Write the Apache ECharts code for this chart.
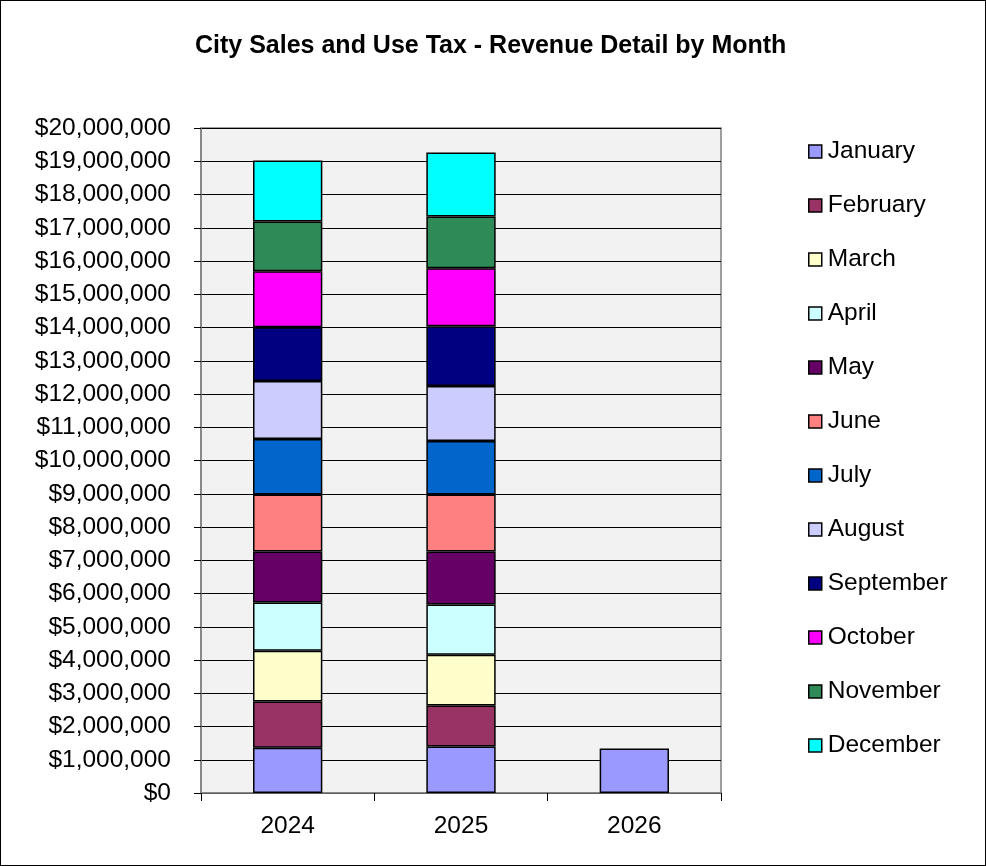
<!DOCTYPE html>
<html>
<head>
<meta charset="utf-8">
<script src="https://cdn.jsdelivr.net/npm/echarts@6/dist/echarts.min.js"></script>
<style>
html,body{margin:0;padding:0;background:#fff;}
#c{width:986px;height:866px;box-sizing:border-box;border:1px solid #000;}
</style>
</head>
<body>
<div id="c"></div>
<script>
const years = ['2024', '2025', '2026'];
const months = ['January','February','March','April','May','June','July','August','September','October','November','December'];
const colors = ['#9999FF','#993366','#FFFFCC','#CCFFFF','#660066','#FF8080','#0066CC','#CCCCFF','#000080','#FF00FF','#2E8B57','#00FFFF'];
// monthly revenue per year [2024, 2025, 2026]
const january   = [1360000, 1400000, 1340000];
const february  = [1390000, 1230000, null];
const march     = [1530000, 1530000, null];
const april     = [1450000, 1510000, null];
const may       = [1530000, 1590000, null];
const june      = [1720000, 1720000, null];
const july      = [1670000, 1610000, null];
const august    = [1740000, 1650000, null];
const september = [1620000, 1800000, null];
const october   = [1680000, 1740000, null];
const november  = [1500000, 1560000, null];
const december  = [1830000, 1920000, null];
const monthData = [january, february, march, april, may, june, july, august, september, october, november, december];

const font = 'Liberation Sans, Arial, sans-serif';
const chart = echarts.init(document.getElementById('c'));
chart.setOption({
  animation: false,
  title: {
    text: 'City Sales and Use Tax - Revenue Detail by Month',
    left: 189, top: 28,
    textStyle: {fontFamily: font, fontSize: 25, fontWeight: 'bold', color: '#000'}
  },
  legend: {
    orient: 'vertical', left: 807, top: 138, padding: 0,
    itemWidth: 13, itemHeight: 13, itemGap: 29,
    icon: 'rect',
    textStyle: {fontFamily: font, fontSize: 24.5, color: '#000', lineHeight: 24, padding: [0,0,0,1]},
    itemStyle: {borderColor: '#000', borderWidth: 1.5},
    data: months
  },
  grid: {
    left: 200, right: 264, top: 127, bottom: 72,
    show: true, backgroundColor: '#f2f2f2', borderColor: '#808080', borderWidth: 1.5
  },
  xAxis: {
    type: 'category', data: years,
    axisLine: {lineStyle: {color: '#808080', width: 1.5}},
    axisTick: {show: true, length: 8, lineStyle: {color: '#000'}},
    axisLabel: {fontFamily: font, fontSize: 24.5, color: '#000', margin: 21}
  },
  yAxis: {
    type: 'value', min: 0, max: 20000000, interval: 1000000,
    axisLine: {show: true, lineStyle: {color: '#808080', width: 1.5}},
    axisTick: {show: true, length: 7, lineStyle: {color: '#000'}},
    splitLine: {lineStyle: {color: '#000', width: 1}},
    axisLabel: {
      fontFamily: font, fontSize: 24.5, color: '#000', margin: 30,
      formatter: v => '$' + v.toLocaleString('en-US')
    }
  },
  series: months.map((m, i) => ({
    name: m, type: 'bar', stack: 'total', barWidth: '40%',
    data: monthData[i],
    itemStyle: {color: colors[i], borderColor: '#000', borderWidth: 1.5}
  }))
});
</script>
</body>
</html>
